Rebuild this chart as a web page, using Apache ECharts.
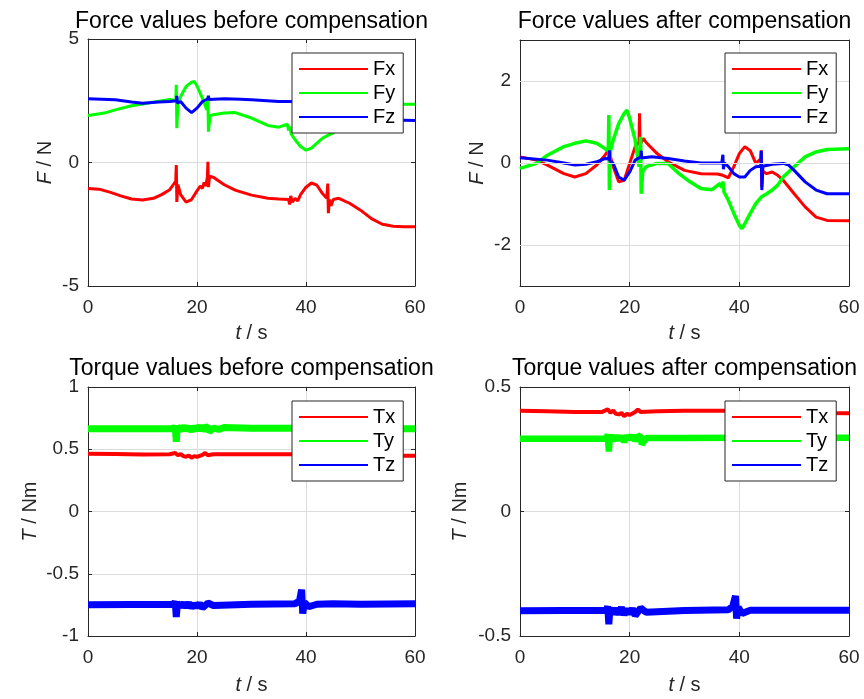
<!DOCTYPE html>
<html>
<head>
<meta charset="utf-8">
<script src="https://cdn.jsdelivr.net/npm/echarts@6/dist/echarts.min.js"></script>
<style>
  html, body { margin: 0; padding: 0; background: #fff; }
  #chartContainerID { width: 864px; height: 699px; }
</style>
</head>
<body>
<div id="chartContainerID"></div>
<script>
// values, [t, value]
var fxBefore = [[0,-1.05],[2,-1.08],[4,-1.2],[6,-1.35],[8,-1.48],[10,-1.52],[12,-1.45],[13.5,-1.3],[15,-1.1],[15.8,-0.85],[16.1,-0.75],[16.2,-0.1],[16.3,-1.6],[16.5,-0.9],[17,-1.3],[18,-1.6],[19,-1.5],[20,-1.15],[20.6,-0.95],[21,-1.05],[21.3,-0.8],[21.6,-0.95],[21.9,-0.6],[22,0.03],[22.1,-1.0],[22.3,-0.55],[23,-0.6],[25,-0.9],[27,-1.12],[30,-1.32],[33,-1.45],[35,-1.48],[36.8,-1.5],[37,-1.7],[37.2,-1.35],[37.5,-1.6],[38,-1.45],[38.5,-1.55],[39,-1.3],[40,-1.0],[41,-0.83],[42,-0.92],[43,-1.25],[43.8,-1.45],[44,-0.85],[44.1,-2.05],[44.3,-1.5],[44.6,-1.75],[45,-1.5],[46,-1.45],[48,-1.65],[50,-1.93],[52,-2.27],[54,-2.5],[56,-2.58],[58,-2.6],[60,-2.6]];
var fyBefore = [[0,1.9],[3,2.0],[5,2.13],[8,2.3],[10,2.37],[13,2.48],[15,2.55],[16.1,2.5],[16.2,3.15],[16.3,1.39],[16.5,2.4],[17,2.67],[18,3.08],[19,3.25],[19.5,3.28],[20,3.1],[21,2.6],[21.8,2.13],[22,2.67],[22.1,1.25],[22.4,1.9],[23,1.93],[25,2.0],[27,2.02],[30,1.8],[33,1.5],[35,1.43],[36.6,1.55],[36.8,1.3],[37,1.45],[37.3,1.15],[38,0.92],[39,0.65],[40,0.5],[41,0.58],[42,0.78],[43,0.98],[44,1.1],[45,1.2],[47,1.5],[49,1.8],[51,2.05],[53,2.25],[55,2.33],[57,2.36],[60,2.36]];
var fzBefore = [[0,2.58],[5,2.54],[8,2.45],[10,2.4],[13,2.45],[15,2.47],[16.2,2.5],[16.3,2.7],[16.4,2.4],[17,2.47],[18,2.2],[19,2.02],[20,2.2],[21,2.47],[22,2.58],[22.1,2.7],[22.2,2.55],[25,2.58],[28,2.56],[30,2.54],[35,2.47],[37,2.47],[40,2.45],[44,2.45],[48,2.4],[50,2.25],[52,2.0],[54,1.8],[56,1.72],[60,1.7]];

var fxAfter = [[0,0.15],[3,0.07],[5,-0.05],[8,-0.26],[10,-0.34],[12,-0.26],[14,-0.05],[15.5,0.19],[16,0.3],[16.2,0.45],[16.4,0.2],[17,-0.09],[18,-0.46],[19,-0.42],[20,-0.01],[21,0.4],[21.7,0.5],[21.8,1.21],[21.9,0.45],[22.5,0.6],[23,0.5],[25,0.23],[27,0.03],[30,-0.18],[33,-0.26],[36,-0.27],[37,-0.3],[38,-0.36],[39,-0.09],[40,0.23],[41,0.4],[42,0.3],[43,-0.01],[43.9,0.1],[44,0.31],[44.1,-0.58],[44.3,-0.2],[45,-0.26],[46,-0.22],[47,-0.3],[48,-0.42],[50,-0.75],[52,-1.07],[54,-1.32],[56,-1.4],[60,-1.41]];
var fyAfter = [[0,-0.13],[3,-0.01],[5,0.19],[8,0.4],[10,0.48],[12,0.54],[14,0.48],[15.5,0.35],[16.1,0.3],[16.2,1.17],[16.3,-0.66],[16.5,0.3],[17,0.56],[18,0.96],[19,1.21],[19.5,1.29],[20,1.09],[21,0.56],[21.7,-0.09],[22,0.64],[22.1,-0.75],[22.4,-0.2],[23,-0.09],[25,-0.01],[27,-0.01],[29,-0.26],[31,-0.46],[33,-0.62],[35,-0.65],[36.5,-0.5],[36.8,-0.6],[37,-0.45],[37.2,-0.7],[38,-0.91],[39,-1.23],[40,-1.52],[40.5,-1.6],[41,-1.48],[42,-1.23],[43,-0.99],[44,-0.83],[45,-0.75],[46,-0.66],[47,-0.54],[48,-0.34],[50,-0.09],[52,0.15],[54,0.27],[56,0.33],[60,0.35]];
var fzAfter = [[0,0.13],[5,0.07],[8,0.0],[10,-0.05],[12,-0.03],[14,0.03],[15.5,0.11],[16.2,0.1],[16.3,0.31],[16.4,0.05],[17,-0.01],[18,-0.34],[19,-0.42],[20,-0.22],[21,0.07],[22,0.15],[22.1,0.3],[22.2,0.12],[24,0.15],[27,0.11],[30,0.05],[33,0.0],[36.8,0.0],[37,0.2],[37.1,-0.15],[37.3,0.0],[38,-0.09],[39,-0.26],[40,-0.34],[41,-0.34],[42,-0.18],[43,-0.09],[43.9,-0.08],[44,0.3],[44.1,-0.66],[44.3,-0.08],[46,-0.03],[48,-0.01],[49,-0.05],[50,-0.18],[52,-0.46],[54,-0.66],[56,-0.75],[60,-0.75]];

var txBefore = [[0,0.463],[5,0.461],[10,0.458],[15,0.46],[16,0.47],[16.5,0.452],[17,0.462],[17.5,0.445],[18,0.44],[18.5,0.45],[19,0.432],[19.5,0.445],[20,0.438],[21,0.455],[21.5,0.47],[22,0.452],[23,0.46],[30,0.46],[40,0.46],[50,0.455],[55,0.448],[60,0.447]];
var tyBefore = [[0,0.665],[10,0.665],[15.8,0.665],[16,0.69],[16.2,0.56],[16.4,0.68],[17,0.655],[17.5,0.68],[18,0.66],[18.5,0.675],[19,0.65],[19.5,0.678],[20,0.66],[20.5,0.685],[21,0.655],[21.5,0.675],[22,0.68],[22.2,0.64],[23,0.67],[24,0.66],[25,0.675],[30,0.668],[40,0.668],[50,0.665],[60,0.665]];
var tzBefore = [[0,-0.748],[15.8,-0.745],[16,-0.72],[16.2,-0.847],[16.4,-0.74],[17,-0.76],[17.5,-0.74],[18,-0.765],[18.5,-0.735],[19,-0.77],[19.5,-0.745],[20,-0.765],[20.5,-0.74],[21,-0.775],[22,-0.735],[23,-0.755],[30,-0.745],[38,-0.74],[38.8,-0.72],[39.2,-0.627],[39.4,-0.82],[39.7,-0.73],[40.5,-0.765],[42,-0.745],[45,-0.74],[50,-0.745],[60,-0.74]];

var txAfter = [[0,0.405],[5,0.403],[10,0.4],[15,0.4],[16,0.41],[16.5,0.397],[17,0.405],[17.5,0.392],[18,0.39],[18.5,0.396],[19,0.383],[19.5,0.392],[20,0.388],[21,0.4],[21.5,0.41],[22,0.4],[25,0.403],[30,0.405],[40,0.405],[50,0.4],[55,0.396],[60,0.395]];
var tyAfter = [[0,0.292],[10,0.292],[15.8,0.292],[16,0.31],[16.2,0.241],[16.4,0.305],[17,0.285],[17.5,0.303],[18,0.288],[18.5,0.302],[19,0.28],[19.5,0.304],[20,0.29],[20.5,0.305],[21,0.285],[21.5,0.3],[22,0.305],[22.2,0.27],[23,0.295],[30,0.295],[40,0.296],[50,0.296],[60,0.296]];
var tzAfter = [[0,-0.399],[15.8,-0.397],[16,-0.38],[16.2,-0.453],[16.4,-0.39],[17,-0.41],[17.5,-0.39],[18,-0.412],[18.5,-0.385],[19,-0.415],[19.5,-0.392],[20,-0.41],[20.5,-0.39],[21,-0.418],[22,-0.388],[23,-0.405],[30,-0.398],[38,-0.395],[38.8,-0.38],[39.3,-0.339],[39.5,-0.43],[39.8,-0.385],[40.5,-0.41],[42,-0.397],[50,-0.397],[60,-0.397]];

var titles = ['Force values before compensation', 'Force values after compensation',
              'Torque values before compensation', 'Torque values after compensation'];
var forceNames = ['Fx', 'Fy', 'Fz'];
var torqueNames = ['Tx', 'Ty', 'Tz'];
var yForceAfterTicks = [-2, 0, 2];

var colors = ['#ff0000', '#00ff00', '#0000ff'];
var axisColor = '#262626';
var font = 'Liberation Sans, Arial, sans-serif';

var grids = [
  {left: 88, top: 39, width: 327, height: 247},
  {left: 520, top: 40, width: 329, height: 246},
  {left: 88, top: 387, width: 327, height: 249},
  {left: 520, top: 387, width: 329, height: 249}
];
var yRanges = [[-5, 5, 5], [-3, 3, null], [-1, 1, 0.5], [-0.5, 0.5, 0.5]];
var yNames = ['{i|F} / N', '{i|F} / N', '{i|T} / Nm', '{i|T} / Nm'];
var yNameGaps = [33, 33, 48, 50];
var xNameGaps = [37, 37, 39, 39];

var myChart = echarts.init(document.getElementById('chartContainerID'));

var xAxes = [], yAxes = [], titleList = [], legends = [], series = [];
var legendPos = [[292, 53], [725, 53], [292, 401], [725, 401]];

for (var g = 0; g < 4; g++) {
  var gr = grids[g];
  titleList.push({
    text: titles[g], left: gr.left + gr.width / 2, top: g < 2 ? 10 : 357, textAlign: 'center', padding: 0,
    textStyle: {fontFamily: font, fontSize: 23, fontWeight: 'normal', color: '#000'}
  });
  // bottom + top x axes
  xAxes.push({
    gridIndex: g, type: 'value', min: 0, max: 60, interval: 20, position: 'bottom',
    name: '{i|t} / s', nameLocation: 'middle', nameGap: xNameGaps[g],
    nameTextStyle: {fontFamily: font, fontSize: 20, color: axisColor, rich: {i: {fontStyle: 'italic', fontFamily: font, fontSize: 20, color: axisColor}}},
    axisLine: {show: true, onZero: false, lineStyle: {color: axisColor}},
    axisTick: {inside: true, length: 4, lineStyle: {color: axisColor}},
    axisLabel: {fontFamily: font, fontSize: 19, color: axisColor, margin: 12},
    splitLine: {show: true, lineStyle: {color: '#dcdcdc'}}
  });
  xAxes.push({
    gridIndex: g, type: 'value', min: 0, max: 60, interval: 20, position: 'top',
    axisLine: {show: true, onZero: false, lineStyle: {color: axisColor}},
    axisTick: {inside: true, length: 4, lineStyle: {color: axisColor}},
    axisLabel: {show: false}, splitLine: {show: false}
  });
  var yr = yRanges[g];
  var yLeft = {
    gridIndex: g, type: 'value', min: yr[0], max: yr[1], position: 'left',
    name: yNames[g], nameLocation: 'middle', nameGap: yNameGaps[g], nameRotate: 90,
    nameTextStyle: {fontFamily: font, fontSize: 20, color: axisColor, rich: {i: {fontStyle: 'italic', fontFamily: font, fontSize: 20, color: axisColor}}},
    axisLine: {show: true, onZero: false, lineStyle: {color: axisColor}},
    axisTick: {inside: true, length: 4, lineStyle: {color: axisColor}},
    axisLabel: {fontFamily: font, fontSize: 19, color: axisColor, margin: 9},
    splitLine: {show: true, lineStyle: {color: '#dcdcdc'}}
  };
  var yRight = {
    gridIndex: g, type: 'value', min: yr[0], max: yr[1], position: 'right',
    axisLine: {show: true, onZero: false, lineStyle: {color: axisColor}},
    axisTick: {inside: true, length: 4, lineStyle: {color: axisColor}},
    axisLabel: {show: false}, splitLine: {show: false}
  };
  if (yr[2] !== null) {
    yLeft.interval = yr[2];
    yRight.interval = yr[2];
  } else {
    yLeft.axisLabel.customValues = yForceAfterTicks;
    yLeft.axisTick.customValues = yForceAfterTicks;
    yRight.axisTick.customValues = yForceAfterTicks;
    yLeft.splitLine.show = false;
  }
  yAxes.push(yLeft, yRight);

  legends.push({
    left: legendPos[g][0], top: legendPos[g][1], orient: 'vertical',
    data: g < 2 ? forceNames : torqueNames,
    icon: 'rect', itemWidth: 69, itemHeight: 2, itemGap: 4,
    padding: [6, 8, 6, 7],
    backgroundColor: '#fff', borderColor: axisColor, borderWidth: 1, borderRadius: 0,
    textStyle: {fontFamily: font, fontSize: 20, lineHeight: 20, color: '#000'},
    selectedMode: false, z: 10
  });
}

// gridlines for the -3..3 panel at the labelled ticks only
series.push({
  type: 'line', name: 'grid', xAxisIndex: 2, yAxisIndex: 2, data: [], z: 1, silent: true,
  markLine: {
    silent: true, symbol: 'none', label: {show: false},
    lineStyle: {color: '#dcdcdc', type: 'solid', width: 1},
    data: yForceAfterTicks.map(function (v) { return {yAxis: v}; })
  }
});

function addLine(g, name, data, color, width) {
  series.push({
    type: 'line', name: name, xAxisIndex: 2 * g, yAxisIndex: 2 * g, data: data,
    showSymbol: false, symbol: 'none', color: color,
    lineStyle: {color: color, width: width}, z: 2, animation: false
  });
}

addLine(0, 'Fx', fxBefore, colors[0], 3);
addLine(0, 'Fy', fyBefore, colors[1], 3);
addLine(0, 'Fz', fzBefore, colors[2], 3);
addLine(1, 'Fx', fxAfter, colors[0], 3);
addLine(1, 'Fy', fyAfter, colors[1], 3.5);
addLine(1, 'Fz', fzAfter, colors[2], 3);
addLine(2, 'Tx', txBefore, colors[0], 4);
addLine(2, 'Ty', tyBefore, colors[1], 7);
addLine(2, 'Tz', tzBefore, colors[2], 7);
addLine(3, 'Tx', txAfter, colors[0], 4);
addLine(3, 'Ty', tyAfter, colors[1], 6.5);
addLine(3, 'Tz', tzAfter, colors[2], 7);

var option = {
  animation: false,
  backgroundColor: '#fff',
  title: titleList,
  legend: legends,
  grid: grids.map(function (gr) {
    return {left: gr.left, top: gr.top, width: gr.width, height: gr.height, containLabel: false, show: false};
  }),
  xAxis: xAxes,
  yAxis: yAxes,
  series: series
};
myChart.setOption(option);
</script>
</body>
</html>
